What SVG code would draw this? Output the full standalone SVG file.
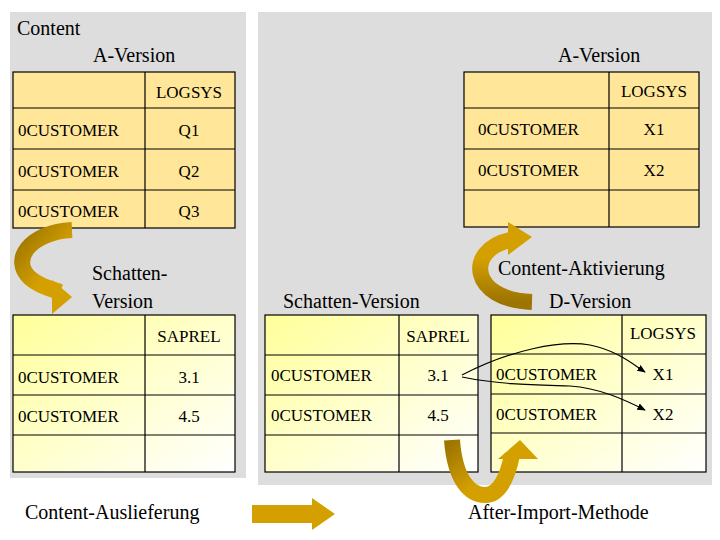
<svg xmlns="http://www.w3.org/2000/svg" width="720" height="540" viewBox="0 0 720 540" font-family="'Liberation Serif', 'DejaVu Serif', serif">
<style>
.t{font-size:20px}.c{font-size:17px}.m{text-anchor:middle}
.cell{stroke:#000;stroke-width:1.2}
.band{fill:none;stroke-width:16}
</style>
<defs>
<linearGradient id="yg" x1="0" y1="0" x2="1" y2="1"><stop offset="0" stop-color="#ffff99"/><stop offset="1" stop-color="#ffffff"/></linearGradient>
<linearGradient id="ag" x1="0" y1="0" x2="1" y2="1"><stop offset="0" stop-color="#9c7400"/><stop offset="0.6" stop-color="#d4a000"/></linearGradient>
<linearGradient id="ag2" x1="0" y1="1" x2="0" y2="0"><stop offset="0" stop-color="#9c7400"/><stop offset="0.7" stop-color="#d4a000"/></linearGradient>
<marker id="ah" viewBox="0 0 10 10" refX="9" refY="5" markerWidth="7" markerHeight="7" orient="auto"><path d="M0,1 L10,5 L0,9 z" fill="#000"/></marker>
</defs>
<rect x="10" y="12" width="236" height="466" fill="#dddddd"/>
<rect x="258" y="12" width="454" height="473" fill="#dddddd"/>
<g font-family="Liberation Serif, serif">
<text class="t" x="17" y="35">Content</text>
<text class="t" x="93" y="62">A-Version</text>
<text class="t" x="558" y="62">A-Version</text>
<text class="t" x="92" y="280">Schatten-</text>
<text class="t" x="92" y="308">Version</text>
<text class="t" x="283" y="308">Schatten-Version</text>
<text class="t" x="549" y="308">D-Version</text>
<text class="t" x="498" y="275">Content-Aktivierung</text>
<text class="t" x="25" y="519">Content-Auslieferung</text>
<text class="t" x="468" y="519">After-Import-Methode</text>
<g id="tableA1">
<rect class="cell" x="13" y="72" width="222" height="156" fill="#ffe699"/>
<path class="cell" d="M145,72V228M13,108H235M13,149H235M13,190H235"/>
<text class="c m" x="189" y="98">LOGSYS</text>
<text class="c" x="18" y="136">0CUSTOMER</text><text class="c m" x="189" y="136">Q1</text>
<text class="c" x="18" y="177">0CUSTOMER</text><text class="c m" x="189" y="177">Q2</text>
<text class="c" x="18" y="217">0CUSTOMER</text><text class="c m" x="189" y="217">Q3</text>
</g>
<g id="tableS1">
<rect class="cell" x="13" y="315" width="222" height="157" fill="url(#yg)"/>
<path class="cell" d="M145,315V472M13,355H235M13,395H235M13,435H235"/>
<text class="c m" x="189" y="342">SAPREL</text>
<text class="c" x="18" y="383">0CUSTOMER</text><text class="c m" x="189" y="383">3.1</text>
<text class="c" x="18" y="422">0CUSTOMER</text><text class="c m" x="189" y="422">4.5</text>
</g>
<g id="tableA2">
<rect class="cell" x="464" y="72" width="235" height="155" fill="#ffe699"/>
<path class="cell" d="M609,72V227M464,108H699M464,149H699M464,190H699"/>
<text class="c m" x="654" y="97">LOGSYS</text>
<text class="c" x="478" y="135">0CUSTOMER</text><text class="c m" x="654" y="135">X1</text>
<text class="c" x="478" y="176">0CUSTOMER</text><text class="c m" x="654" y="176">X2</text>
</g>
<g id="tableS2">
<rect class="cell" x="265" y="315" width="213" height="157" fill="url(#yg)"/>
<path class="cell" d="M399,315V472M265,355H478M265,395H478M265,435H478"/>
<text class="c m" x="438" y="342">SAPREL</text>
<text class="c" x="271" y="381">0CUSTOMER</text><text class="c m" x="438" y="381">3.1</text>
<text class="c" x="271" y="421">0CUSTOMER</text><text class="c m" x="438" y="421">4.5</text>
</g>
<g id="tableD">
<rect class="cell" x="491" y="315" width="215" height="157" fill="url(#yg)"/>
<path class="cell" d="M622,315V472M491,354H706M491,394H706M491,433H706"/>
<text class="c m" x="663" y="339">LOGSYS</text>
<text class="c" x="496" y="380">0CUSTOMER</text><text class="c m" x="663" y="380">X1</text>
<text class="c" x="496" y="420">0CUSTOMER</text><text class="c m" x="663" y="420">X2</text>
</g>
</g>
<g id="connectors">
<path class="band" stroke="url(#ag)" d="M72,230 C30,232 10,260 30,278 C40,287 55,290 60,292"/>
<path d="M52,280 L72,297 L52,314 z" fill="#d4a000"/>
<path class="band" stroke="url(#ag2)" d="M532,302 C470,300 465,250 510,240"/>
<path d="M508,222 L532,237 L508,255 z" fill="#d4a000"/>
<path class="band" stroke="url(#ag)" d="M452,440 C455,480 470,495 485,495 C500,495 508,475 512,455"/>
<path d="M498,459 L520,440 L538,459 z" fill="#d4a000"/>
<path d="M252,505 H312 V498 L335,514 L312,530 V523 H252 z" fill="#d4a000"/>
<path d="M462,375 C510,350 560,340 590,345 C615,350 630,362 645,372" fill="none" stroke="#000" stroke-width="1.2" marker-end="url(#ah)"/>
<path d="M462,377 C500,385 540,385 570,386 C600,388 625,400 645,410" fill="none" stroke="#000" stroke-width="1.2" marker-end="url(#ah)"/>
</g>
</svg>
